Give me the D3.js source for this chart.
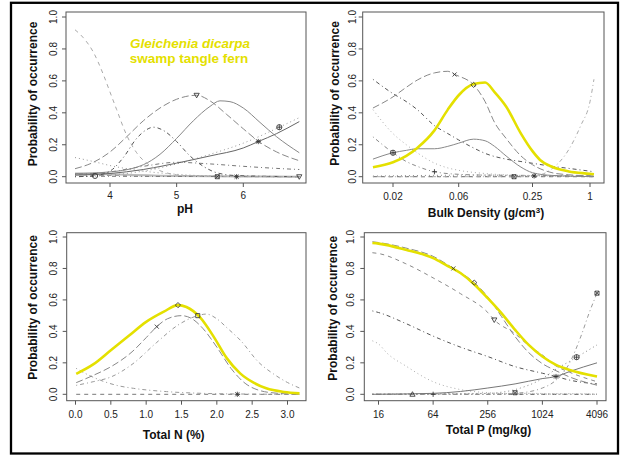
<!DOCTYPE html>
<html>
<head>
<meta charset="utf-8">
<script src="https://cdn.jsdelivr.net/npm/d3@7"></script>
<style>
  body { margin: 0; background: #fff; }
  svg { font-family: "Liberation Sans", Arial, sans-serif; }
</style>
</head>
<body>
<div id="chart"></div>
<script>
// ---- tick values and labels ----
const yTicks = [0, 0.2, 0.4, 0.6, 0.8, 1.0];
const yTickLabels = ["0.0", "0.2", "0.4", "0.6", "0.8", "1.0"];
const phTicks = [4, 5, 6];
const phTickLabels = ["4", "5", "6"];
const bdTicks = [0.02, 0.06, 0.25, 1];
const bdTickLabels = ["0.02", "0.06", "0.25", "1"];
const nTicks = [0, 0.5, 1, 1.5, 2, 2.5, 3];
const nTickLabels = ["0.0", "0.5", "1.0", "1.5", "2.0", "2.5", "3.0"];
const pTicks = [16, 64, 256, 1024, 4096];
const pTickLabels = ["16", "64", "256", "1024", "4096"];

// ---- pH panel: [pH, probability] ----
const phSteep = [[3.475,0.92],[3.6,0.87],[3.75,0.78],[3.9,0.64],[4.0,0.53],[4.1,0.42],[4.25,0.26],[4.4,0.15],[4.6,0.07],[4.8,0.03],[5.0,0.012],[5.3,0.004],[5.7,0.001],[6.84,0]];
const phNabla = [[3.475,0.05],[3.75,0.09],[4.0,0.155],[4.25,0.25],[4.5,0.35],[4.75,0.43],[5.0,0.485],[5.3,0.51],[5.5,0.475],[5.75,0.39],[6.0,0.30],[6.25,0.215],[6.5,0.155],[6.84,0.10]];
const phHump = [[3.475,0.0],[3.75,0.005],[4.0,0.035],[4.2,0.12],[4.4,0.24],[4.55,0.295],[4.65,0.31],[4.8,0.29],[5.0,0.22],[5.2,0.13],[5.4,0.065],[5.6,0.025],[5.9,0.007],[6.84,0]];
const phSolid = [[3.475,0.02],[4.0,0.03],[4.5,0.075],[4.75,0.14],[5.0,0.24],[5.25,0.35],[5.5,0.44],[5.65,0.475],[5.8,0.47],[6.0,0.43],[6.25,0.34],[6.5,0.25],[6.84,0.15]];
const phRise = [[3.475,0.01],[4.0,0.02],[4.5,0.045],[5.0,0.085],[5.5,0.13],[6.0,0.18],[6.225,0.22],[6.5,0.27],[6.84,0.345]];
const phDotRise = [[3.475,0.0],[4.0,0.01],[4.5,0.035],[5.0,0.08],[5.5,0.14],[6.0,0.21],[6.54,0.31],[6.84,0.37]];
const phDotFall = [[3.475,0.12],[3.75,0.095],[4.0,0.07],[4.5,0.035],[5.0,0.015],[5.5,0.005],[6.84,0]];
const phBroad = [[3.475,0.015],[4.0,0.03],[4.5,0.065],[5.0,0.09],[5.5,0.08],[6.0,0.065],[6.5,0.052],[6.84,0.045]];
const phFlatA = [[3.475,0.012],[4.0,0.008],[5.0,0.004],[6.0,0.002],[6.84,0.001]];
const phFlatB = [[3.475,0.02],[4.0,0.015],[5.0,0.005],[6.84,0]];
const phFlatC = [[3.475,0.003],[6.84,0.0]];
const phMarks = [["triangleDown",5.3,0.51],["asterisk",6.225,0.22],["circlePlus",6.54,0.31],["circle",3.775,0.005],["squareX",5.61,0.0],["asterisk",5.9,0.0],["triangleDown",6.84,0.0]];

// ---- bulk density panel: [g/cm3, probability] ----
const bdYellow = [[0.0143,0.059],[0.02,0.09],[0.025,0.13],[0.03,0.18],[0.04,0.29],[0.05,0.42],[0.06,0.51],[0.08,0.58],[0.1,0.59],[0.12,0.53],[0.15,0.44],[0.2,0.27],[0.25,0.16],[0.3,0.105],[0.4,0.062],[0.6,0.033],[1,0.018],[1.1,0.015]];
const bdCross = [[0.0143,0.43],[0.02,0.50],[0.025,0.56],[0.03,0.605],[0.04,0.65],[0.05,0.66],[0.056,0.64],[0.06,0.63],[0.08,0.575],[0.1,0.47],[0.12,0.34],[0.15,0.24],[0.2,0.13],[0.25,0.075],[0.3,0.05],[0.4,0.025],[0.6,0.012],[1.1,0.005]];
const bdFall = [[0.0143,0.61],[0.02,0.52],[0.025,0.47],[0.03,0.42],[0.04,0.32],[0.05,0.27],[0.06,0.23],[0.08,0.18],[0.1,0.146],[0.15,0.11],[0.2,0.095],[0.25,0.084],[0.4,0.065],[0.6,0.052],[1.1,0.031]];
const bdSolid = [[0.0143,0.11],[0.02,0.15],[0.025,0.165],[0.03,0.175],[0.04,0.175],[0.05,0.19],[0.06,0.21],[0.08,0.235],[0.1,0.225],[0.12,0.19],[0.15,0.13],[0.2,0.06],[0.25,0.025],[0.4,0.008],[1.1,0.0]];
const bdDotFall = [[0.0143,0.42],[0.02,0.27],[0.025,0.2],[0.03,0.15],[0.04,0.085],[0.05,0.055],[0.06,0.04],[0.1,0.02],[0.2,0.008],[1.1,0]];
const bdDashFall = [[0.0143,0.25],[0.02,0.15],[0.025,0.095],[0.03,0.065],[0.04,0.031],[0.06,0.015],[0.1,0.01],[0.25,0.008],[1.1,0.005]];
const bdRise = [[0.0143,0.0],[0.2,0.0],[0.3,0.012],[0.4,0.05],[0.6,0.17],[0.8,0.32],[1,0.47],[1.1,0.61]];
const bdFlatA = [[0.0143,0.0],[1.1,0.0]];
const bdFlatB = [[0.0143,0.004],[0.1,0.01],[0.26,0.005],[1.1,0.002]];
const bdMarks = [["cross",0.056,0.64],["diamond",0.08,0.575],["circlePlus",0.02,0.15],["plus",0.04,0.031],["squareX",0.175,0.0],["asterisk",0.26,0.005]];

// ---- total N panel: [%, probability] ----
const nYellow = [[0.01,0.13],[0.25,0.19],[0.5,0.28],[0.75,0.37],[1.0,0.46],[1.25,0.525],[1.45,0.567],[1.57,0.555],[1.76,0.49],[1.95,0.37],[2.14,0.23],[2.33,0.133],[2.52,0.074],[2.7,0.038],[2.95,0.015],[3.17,0.006]];
const nCross = [[0.01,0.074],[0.25,0.12],[0.5,0.175],[0.8,0.27],[1.0,0.36],[1.15,0.43],[1.3,0.48],[1.5,0.50],[1.65,0.48],[1.8,0.42],[2.0,0.30],[2.2,0.165],[2.4,0.07],[2.6,0.025],[2.85,0.007],[3.17,0.0]];
const nSquare = [[0.01,0.057],[0.25,0.08],[0.5,0.11],[0.8,0.19],[1.15,0.33],[1.45,0.44],[1.73,0.50],[1.85,0.51],[2.0,0.48],[2.15,0.42],[2.33,0.345],[2.6,0.2],[2.8,0.13],[3.0,0.075],[3.17,0.04]];
const nDotFall = [[0.01,0.165],[0.15,0.13],[0.35,0.09],[0.6,0.055],[0.82,0.038],[1.29,0.017],[1.8,0.006],[2.3,0.002],[3.17,0.0]];
const nFlat = [[0.01,0.0],[3.17,0.0]];
const nMarks = [["diamond",1.45,0.567],["square",1.73,0.50],["cross",1.15,0.43],["asterisk",2.29,0.0]];

// ---- total P panel: [mg/kg, probability] ----
const pYellow = [[13.7,0.962],[16,0.958],[32,0.919],[64,0.866],[90,0.82],[128,0.771],[181,0.70],[256,0.611],[362,0.516],[512,0.41],[724,0.314],[1024,0.24],[1448,0.187],[2048,0.155],[4096,0.113]];
const pCross = [[13.7,0.97],[16,0.965],[32,0.93],[64,0.877],[107,0.80],[181.8,0.71],[256,0.62],[362,0.495],[512,0.367],[724,0.265],[1024,0.195],[1448,0.15],[2048,0.11],[4096,0.058]];
const pNabla = [[13.7,0.90],[16,0.895],[32,0.83],[64,0.74],[128,0.64],[256,0.52],[302,0.473],[512,0.385],[724,0.31],[1024,0.25],[1448,0.18],[2048,0.14],[4096,0.08]];
const pFall = [[13.7,0.53],[16,0.52],[32,0.45],[64,0.37],[128,0.30],[256,0.24],[512,0.176],[1024,0.134],[1448,0.113],[2048,0.09],[4096,0.066]];
const pSolid = [[13.7,0.0],[64,0.006],[128,0.018],[256,0.04],[512,0.066],[1024,0.10],[1448,0.113],[2048,0.145],[4096,0.20]];
const pDotRise = [[13.7,0.0],[128,0.002],[256,0.006],[512,0.03],[1024,0.10],[1448,0.16],[2048,0.21],[2442,0.236],[4096,0.314]];
const pRise = [[13.7,0.0],[256,0.0],[512,0.006],[1024,0.04],[1448,0.09],[2048,0.2],[2727,0.37],[3370,0.52],[4096,0.643]];
const pDotFall = [[13.7,0.34],[16,0.32],[20,0.26],[32,0.18],[64,0.08],[128,0.03],[256,0.01],[512,0.003],[4096,0.0]];
const pFlatA = [[13.7,0.0],[4096,0.0]];
const pFlatB = [[13.7,0.002],[512,0.006],[4096,0.002]];
const pMarks = [["cross",107,0.80],["diamond",181.8,0.71],["triangleDown",302,0.473],["asterisk",1448,0.113],["circlePlus",2442,0.236],["squareX",4096,0.643],["triangleUp",37.9,0.0],["plus",64,0.0],["squareX",512,0.01]];

const titleLines = ["Gleichenia dicarpa", "swamp tangle fern"];
const yTitle = "Probability of occurrence";

// ---- drawing ----
const W = 622, H = 461;
const yellow = "#e4e000";
const dashes = {
  solid: null,
  dashed: "4,4",
  dotted: "1,3",
  dotdash: "1,3,4,3",
  longdash: "7,3",
  twodash: "2,2,6,2"
};

const svg = d3.select("#chart").append("svg")
  .attr("width", W).attr("height", H);

svg.append("rect").attr("width", W).attr("height", H).attr("fill", "#fff");
// outer frame
svg.append("rect")
  .attr("x", 11).attr("y", 2.8)
  .attr("width", 607).attr("height", 450.7)
  .attr("fill", "none").attr("stroke", "#000").attr("stroke-width", 2.3);

function markerPath(type, s) {
  const c = s * 0.78;
  const circle = `M${s},0A${s},${s} 0 1,1 ${-s},0A${s},${s} 0 1,1 ${s},0Z`;
  const plus = `M${-s},0H${s}M0,${-s}V${s}`;
  const cross = `M${-c},${-c}L${c},${c}M${-c},${c}L${c},${-c}`;
  switch (type) {
    case "circle": return circle;
    case "circlePlus": return circle + plus;
    case "plus": return plus;
    case "cross": return cross;
    case "asterisk": return plus + cross;
    case "diamond": return `M0,${-s}L${s},0L0,${s}L${-s},0Z`;
    case "triangleUp": return `M0,${-s}L${s},${s * 0.75}L${-s},${s * 0.75}Z`;
    case "triangleDown": return `M0,${s}L${s},${-s * 0.75}L${-s},${-s * 0.75}Z`;
    case "square": return `M${-c},${-c}H${c}V${c}H${-c}Z`;
    case "squareX": return `M${-c},${-c}H${c}V${c}H${-c}Z` + cross;
  }
  return circle;
}

function drawPanel(p, idx) {
  const g = svg.append("g");
  const x = p.x, y = p.y;
  const b = p.box;

  const clipId = "clip" + idx;
  g.append("clipPath").attr("id", clipId)
    .append("rect")
    .attr("x", b.x0).attr("y", b.y0)
    .attr("width", b.x1 - b.x0).attr("height", b.y1 - b.y0);

  const line = d3.line()
    .x(d => x(d[0]))
    .y(d => y(d[1]))
    .curve(d3.curveMonotoneX);

  const plot = g.append("g").attr("clip-path", `url(#${clipId})`);

  plot.selectAll("path.curve")
    .data(p.series)
    .enter()
    .append("path")
    .attr("class", "curve")
    .attr("d", s => line(s.data))
    .attr("fill", "none")
    .attr("stroke", s => s.color)
    .attr("stroke-width", s => s.width || 1)
    .attr("stroke-dasharray", s => dashes[s.lty])
    .attr("stroke-linejoin", "round");

  plot.selectAll("path.mark")
    .data(p.marks)
    .enter()
    .append("path")
    .attr("class", "mark")
    .attr("transform", d => `translate(${x(d[1])},${y(d[2])})`)
    .attr("d", d => markerPath(d[0], 2.6))
    .attr("fill", "none")
    .attr("stroke", "#333")
    .attr("stroke-width", 0.85);

  // box
  g.append("rect")
    .attr("x", b.x0).attr("y", b.y0)
    .attr("width", b.x1 - b.x0).attr("height", b.y1 - b.y0)
    .attr("fill", "none").attr("stroke", "#555").attr("stroke-width", 1);

  // x ticks
  const xt = g.append("g");
  xt.selectAll("line")
    .data(p.xTicks)
    .enter()
    .append("line")
    .attr("x1", d => x(d)).attr("x2", d => x(d))
    .attr("y1", b.y1).attr("y2", b.y1 + 4)
    .attr("stroke", "#555");
  xt.selectAll("text")
    .data(p.xTicks)
    .enter()
    .append("text")
    .attr("x", d => x(d))
    .attr("y", p.xLabelY)
    .attr("text-anchor", "middle")
    .style("font-size", "10px")
    .attr("fill", "#222")
    .text((d, i) => p.xTickLabels[i]);

  // y ticks
  const yt = g.append("g");
  yt.selectAll("line")
    .data(yTicks)
    .enter()
    .append("line")
    .attr("x1", b.x0 - 4).attr("x2", b.x0)
    .attr("y1", d => y(d)).attr("y2", d => y(d))
    .attr("stroke", "#555");
  yt.selectAll("text")
    .data(yTicks)
    .enter()
    .append("text")
    .attr("transform", d => `translate(${p.yLabelX},${y(d)}) rotate(-90)`)
    .attr("text-anchor", "middle")
    .style("font-size", "10px")
    .attr("fill", "#222")
    .text((d, i) => yTickLabels[i]);

  // axis titles
  const xTitle = g.append("text")
    .attr("x", p.xTitlePos[0]).attr("y", p.xTitlePos[1])
    .attr("text-anchor", "middle")
    .style("font-size", "12px")
    .style("font-weight", "bold")
    .attr("fill", "#111");
  if (p.xTitleSup) {
    xTitle.append("tspan").text(p.xTitle);
    xTitle.append("tspan").attr("dy", -4).style("font-size", "8px").text(p.xTitleSup);
    xTitle.append("tspan").attr("dy", 4).text(p.xTitleEnd);
  } else {
    xTitle.text(p.xTitle);
  }

  g.append("text")
    .attr("transform", `translate(${p.yTitlePos[0]},${p.yTitlePos[1]}) rotate(-90)`)
    .attr("text-anchor", "middle")
    .style("font-size", "12px")
    .style("font-weight", "bold")
    .attr("fill", "#111")
    .text(yTitle);
}

const yTop = d3.scaleLinear().domain([0, 1]).range([176.7, 17]);
const yBot = d3.scaleLinear().domain([0, 1]).range([394.3, 237]);

const panels = [
  {
    box: { x0: 66, x1: 306, y0: 12, y1: 183 },
    x: d3.scaleLinear().domain([4, 6]).range([110, 243.3]),
    y: yTop,
    xTicks: phTicks, xTickLabels: phTickLabels,
    xLabelY: 199.3, yLabelX: 57.3,
    xTitle: "pH", xTitlePos: [185, 213],
    yTitlePos: [37, 94],
    series: [
      { data: phFlatA, lty: "dashed", color: "#888" },
      { data: phFlatB, lty: "solid", color: "#bbb", width: 2 },
      { data: phFlatC, lty: "dotdash", color: "#777" },
      { data: phDotFall, lty: "dotted", color: "#999" },
      { data: phBroad, lty: "dotdash", color: "#777" },
      { data: phDotRise, lty: "dotted", color: "#999" },
      { data: phRise, lty: "solid", color: "#666" },
      { data: phSolid, lty: "solid", color: "#888" },
      { data: phHump, lty: "dotdash", color: "#555" },
      { data: phNabla, lty: "longdash", color: "#888" },
      { data: phSteep, lty: "dashed", color: "#aaa" }
    ],
    marks: phMarks
  },
  {
    box: { x0: 362.7, x1: 604, y0: 12, y1: 183 },
    x: d3.scaleLog().domain(bdTicks).range([393, 458.7, 532.5, 590]),
    y: yTop,
    xTicks: bdTicks, xTickLabels: bdTickLabels,
    xLabelY: 200, yLabelX: 356,
    xTitle: "Bulk Density (g/cm", xTitleSup: "3", xTitleEnd: ")",
    xTitlePos: [486, 217],
    yTitlePos: [339, 93.5],
    series: [
      { data: bdFlatA, lty: "dashed", color: "#666" },
      { data: bdFlatB, lty: "dotted", color: "#888" },
      { data: bdDashFall, lty: "dotdash", color: "#888" },
      { data: bdDotFall, lty: "dotted", color: "#aaa" },
      { data: bdRise, lty: "dotdash", color: "#aaa" },
      { data: bdSolid, lty: "solid", color: "#888" },
      { data: bdFall, lty: "dotdash", color: "#555" },
      { data: bdCross, lty: "longdash", color: "#888" },
      { data: bdYellow, lty: "solid", color: yellow, width: 2.6 }
    ],
    marks: bdMarks
  },
  {
    box: { x0: 66.7, x1: 306, y0: 232.7, y1: 400.7 },
    x: d3.scaleLinear().domain([0, 3]).range([75.5, 287.5]),
    y: yBot,
    xTicks: nTicks, xTickLabels: nTickLabels,
    xLabelY: 418.3, yLabelX: 57.3,
    xTitle: "Total N (%)", xTitlePos: [173.7, 438.7],
    yTitlePos: [37, 307.5],
    series: [
      { data: nFlat, lty: "dashed", color: "#777" },
      { data: nDotFall, lty: "dotdash", color: "#999" },
      { data: nSquare, lty: "dotdash", color: "#999" },
      { data: nCross, lty: "longdash", color: "#888" },
      { data: nYellow, lty: "solid", color: yellow, width: 2.6 }
    ],
    marks: nMarks
  },
  {
    box: { x0: 364.3, x1: 606, y0: 232.7, y1: 400.7 },
    x: d3.scaleLog().base(2).domain([16, 4096]).range([378.5, 597]),
    y: yBot,
    xTicks: pTicks, xTickLabels: pTickLabels,
    xLabelY: 418.3, yLabelX: 354.3,
    xTitle: "Total P (mg/kg)", xTitlePos: [488.5, 433.7],
    yTitlePos: [337, 308.3],
    series: [
      { data: pFlatA, lty: "dotdash", color: "#555" },
      { data: pFlatB, lty: "dotted", color: "#999" },
      { data: pDotFall, lty: "dotted", color: "#aaa" },
      { data: pRise, lty: "dotdash", color: "#999" },
      { data: pDotRise, lty: "dotted", color: "#888" },
      { data: pSolid, lty: "solid", color: "#777" },
      { data: pFall, lty: "dotdash", color: "#555" },
      { data: pNabla, lty: "dashed", color: "#888" },
      { data: pCross, lty: "longdash", color: "#888" },
      { data: pYellow, lty: "solid", color: yellow, width: 2.6 }
    ],
    marks: pMarks
  }
];

panels.forEach((p, i) => drawPanel(p, i));

// species annotation in the pH panel
svg.append("text")
  .attr("x", 190).attr("y", 48)
  .attr("text-anchor", "middle")
  .style("font-size", "13.5px")
  .style("font-weight", "bold")
  .style("font-style", "italic")
  .attr("fill", yellow)
  .text(titleLines[0]);
svg.append("text")
  .attr("x", 189).attr("y", 62.7)
  .attr("text-anchor", "middle")
  .style("font-size", "13.5px")
  .style("font-weight", "bold")
  .attr("fill", yellow)
  .text(titleLines[1]);
</script>
</body>
</html>
